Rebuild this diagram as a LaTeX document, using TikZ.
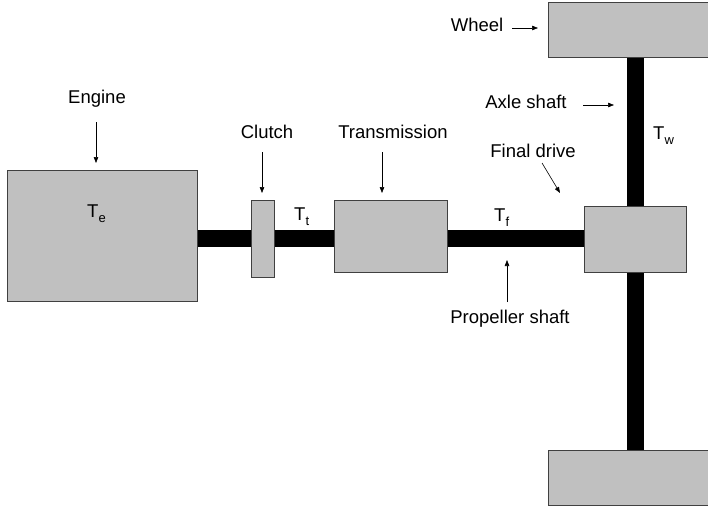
\documentclass[tikz,border=0pt]{standalone}
\usepackage{fontspec}
\setmainfont{Liberation Sans}
\usetikzlibrary{arrows.meta,backgrounds}
\definecolor{boxgray}{HTML}{C0C0C0}
\newcommand{\mysub}[1]{\raisebox{-0.6ex}{\fontsize{13}{13}\selectfont #1}}
\begin{document}
\begin{tikzpicture}[x=1pt,y=-1pt,
 part/.style={draw=black!75, line width=0.8pt, fill=boxgray, inner sep=0pt, outer sep=0pt},
 lbl/.style={font=\fontsize{18.5}{22}\selectfont, inner sep=0pt, anchor=base},
 tlbl/.style={font=\fontsize{18.5}{22}\selectfont, inner sep=0pt, anchor=base west},
 shaft/.style={line width=17pt, black},
 arr/.style={line width=0.6pt, -{Triangle[length=6pt,width=4.5pt]}}]
\useasboundingbox (0,0) rectangle (708,508);

% parts
\node[part, minimum width=190pt, minimum height=131pt] (engine) at (102,235.5) {};
\node[part, minimum width=23pt, minimum height=77pt] (clutch) at (262.5,238.5) {};
\node[part, minimum width=113pt, minimum height=72pt] (trans) at (390.5,236) {};
\node[part, minimum width=102pt, minimum height=66pt] (fd) at (635,239) {};
\node[part, minimum width=164pt, minimum height=55pt] (wheeltop) at (630,29.5) {};
\node[part, minimum width=164pt, minimum height=55pt] (wheelbot) at (630,477.5) {};

% shafts
\begin{scope}[on background layer]
\draw[shaft] (engine.center |- clutch.center) -- (fd.center |- clutch.center);
\draw[shaft] (fd.center |- wheeltop.center) -- (fd.center |- wheelbot.center);
\end{scope}

% labels
\node[lbl] (englbl) at (97,103) {Engine};
\node[lbl] (clulbl) at (267,138) {Clutch};
\node[lbl] (trlbl) at (393,138) {Transmission};
\node[lbl] (fdlbl) at (533,157) {Final drive};
\node[lbl] (prlbl) at (510,323) {Propeller shaft};
\node[lbl] (axlbl) at (526,109) {Axle shaft};
\node[lbl] (whlbl) at (477,32) {Wheel};

\node[tlbl] (te) at (87,217) {T\mysub{e}};
\node[tlbl] (tt) at (294,220) {T\mysub{t}};
\node[tlbl] (tf) at (494,221) {T\mysub{f}};
\node[tlbl] (tw) at (653,139) {T\mysub{w}};

% arrows
\coordinate (engA) at (96,122);
\draw[arr, shorten >=7pt] (engA) -- (engA |- engine.north);
\coordinate (cluA) at (262,152);
\draw[arr, shorten >=7pt] (cluA) -- (cluA |- clutch.north);
\coordinate (trA) at (382,152);
\draw[arr, shorten >=7pt] (trA) -- (trA |- trans.north);
\coordinate (fdA) at (542,163);
\coordinate (fdB) at (560,193);
\draw[arr] (fdA) -- (fdB);
\coordinate (prA) at (507,302);
\coordinate (prB) at (507,260);
\draw[arr] (prA) -- (prB);
\coordinate (axA) at (583,105);
\coordinate (axB) at (614,105);
\draw[arr] (axA) -- (axB);
\coordinate (whA) at (512,28);
\coordinate (whB) at (538,28);
\draw[arr] (whA) -- (whB);
\end{tikzpicture}
\end{document}
